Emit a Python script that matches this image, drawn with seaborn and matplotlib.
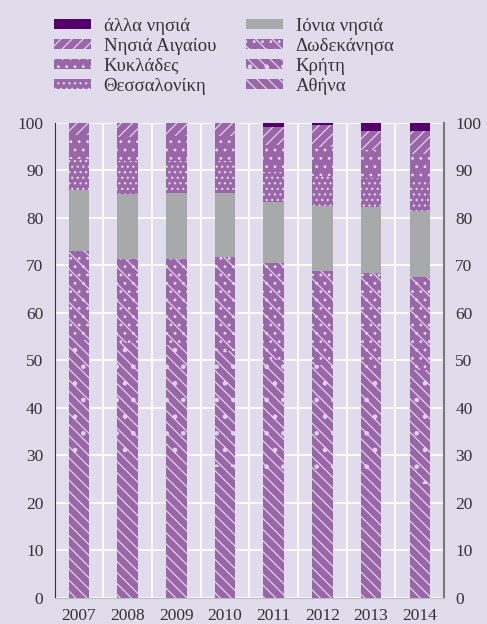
import numpy as np
import pandas as pd
import seaborn as sns
import matplotlib.pyplot as plt
from matplotlib.patches import Patch

# data (shares, %), bottom -> top
years = ['2007', '2008', '2009', '2010', '2011', '2012', '2013', '2014']
athina = [30.5, 29.3, 29.0, 27.6, 26.0, 25.0, 24.5, 24.0]
kriti = [23.8, 24.4, 24.3, 24.3, 24.0, 24.0, 23.5, 24.0]
dodekanisa = [18.8, 17.7, 18.0, 19.9, 20.5, 19.8, 20.4, 19.6]
ionia = [12.8, 13.7, 13.9, 13.5, 12.9, 13.7, 13.9, 13.9]
thessaloniki = [6.5, 6.8, 6.8, 6.6, 6.2, 6.4, 6.2, 6.3]
kyklades = [5.0, 5.2, 5.3, 5.4, 5.8, 6.0, 5.8, 5.7]
nisia_aigaiou = [2.6, 2.9, 2.7, 2.7, 3.7, 4.6, 3.9, 4.7]
alla = [0.0, 0.0, 0.0, 0.0, 0.9, 0.5, 1.8, 1.8]

names = ['Αθήνα', 'Κρήτη', 'Δωδεκάνησα', 'Ιόνια νησιά', 'Θεσσαλονίκη',
         'Κυκλάδες', 'Νησιά Αιγαίου', 'άλλα νησιά']
series = [athina, kriti, dodekanisa, ionia, thessaloniki, kyklades, nisia_aigaiou, alla]

purple = '#9966a8'
colors = [purple, purple, purple, '#a8a9ab', purple, purple, purple, '#55006a']
hatches = ['\\\\\\', '\\\\\\.', '\\\\..', None, '...', '..', '///', None]

bg = '#e0dcec'
plt.rcParams['hatch.linewidth'] = 0.9
sns.set_style('white')
plt.rcParams['font.family'] = ['Liberation Serif', 'DejaVu Serif']

fig, ax = plt.subplots(figsize=(4.87, 6.24), dpi=100)
fig.patch.set_facecolor(bg)
ax.set_facecolor(bg)

cum = np.cumsum(np.array(series), axis=0)
# draw from top layer down so each lower layer covers the one above
for i in range(len(series) - 1, -1, -1):
    sns.barplot(x=years, y=cum[i], color=colors[i], saturation=1, width=0.42,
                hatch=hatches[i], edgecolor='#e2d2ec', linewidth=0, ax=ax, zorder=3)

ax.set_ylim(0, 100)
ax.set_xlim(-0.5, 7.5)
ax.set_yticks(range(0, 101, 10))
ax.set_xticks(range(8))
ax.set_xticklabels(years)
ax.set_xticks(np.arange(-0.5, 8, 1), minor=True)
ax.grid(axis='y', color='white', linewidth=1.3, zorder=0)
ax.grid(axis='x', which='minor', color='white', linewidth=1.3, zorder=0)
ax.set_axisbelow(True)
ax.tick_params(axis='x', which='major', length=0, labelsize=12.5, colors='#333333', pad=7)
ax.tick_params(axis='x', which='minor', length=6, direction='out', color='#555555')
ax.tick_params(axis='y', length=0, labelsize=12.5, colors='#333333', pad=8)
ax.set_xlabel('')
ax.set_ylabel('')
ax.spines['top'].set_visible(False)
ax.spines['left'].set_color('#333333')
ax.spines['bottom'].set_color('#bbbbbb')
ax.spines['right'].set_color('#777777')
ax.spines['right'].set_linewidth(1.5)

ax2 = ax.twinx()
ax2.set_ylim(0, 100)
ax2.set_yticks(range(0, 101, 10))
ax2.tick_params(axis='y', length=0, labelsize=12.5, colors='#333333', pad=8)
for s in ax2.spines.values():
    s.set_visible(False)

order = [7, 6, 5, 4, 3, 2, 1, 0]
handles = [Patch(facecolor=colors[i], hatch=hatches[i], edgecolor='#e2d2ec', linewidth=0,
                 label=names[i]) for i in order]
fig.legend(handles=handles, ncol=2, loc='upper left', bbox_to_anchor=(0.076, 0.998),
           frameon=False, fontsize=13.5, handlelength=2.0, handleheight=0.45,
           columnspacing=1.6, labelspacing=0.15, handletextpad=0.65)
for t in fig.legends[0].get_texts():
    t.set_color('#333333')

plt.subplots_adjust(left=0.112, right=0.912, top=0.803, bottom=0.042)
plt.savefig('out.png', dpi=100, facecolor=bg)
